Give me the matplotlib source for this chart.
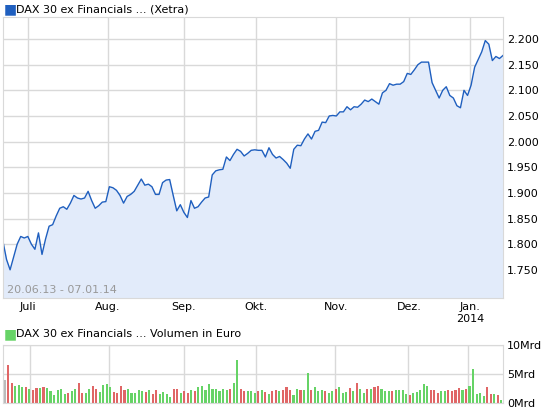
import numpy as np
import matplotlib
matplotlib.use("Agg")
import matplotlib.pyplot as plt
from matplotlib.ticker import FuncFormatter

# Daily closes, 20.06.13 - 07.01.14
prices = [
    1.805, 1.770, 1.750, 1.775, 1.800, 1.815, 1.812,
    1.815, 1.800, 1.790, 1.822, 1.780, 1.810, 1.835, 1.838, 1.855, 1.870, 1.873, 1.868,
    1.880, 1.895, 1.890, 1.888, 1.890, 1.903, 1.885, 1.870, 1.875, 1.882, 1.883,
    1.912, 1.910, 1.905, 1.895, 1.880, 1.893, 1.897, 1.903, 1.915, 1.927, 1.915, 1.917,
    1.912, 1.897, 1.897, 1.920, 1.925, 1.926, 1.895, 1.865, 1.877, 1.862,
    1.852, 1.885, 1.870, 1.873, 1.882, 1.890, 1.892, 1.935, 1.943, 1.945, 1.946, 1.970,
    1.963, 1.975, 1.985, 1.981, 1.972, 1.977, 1.983, 1.984, 1.983,
    1.983, 1.970, 1.988, 1.975, 1.968, 1.971, 1.965, 1.958, 1.948, 1.985, 1.993, 1.992,
    2.005, 2.015, 2.005, 2.020, 2.022, 2.038, 2.037, 2.050, 2.051, 2.050, 2.058,
    2.058, 2.068, 2.062, 2.068, 2.067, 2.073, 2.081, 2.078, 2.083, 2.078, 2.073, 2.095,
    2.100, 2.113, 2.110, 2.112, 2.112, 2.117, 2.133, 2.131, 2.140,
    2.150, 2.155, 2.155, 2.155, 2.115, 2.100, 2.085, 2.100, 2.107, 2.090, 2.085, 2.070,
    2.066, 2.100, 2.090, 2.110, 2.145, 2.160, 2.175,
    2.197, 2.190, 2.158, 2.166, 2.162, 2.168,
]

# Volume in Mrd Euro
volumes = [
    4.0, 6.5, 3.5, 3.0, 3.1, 2.7, 2.8,
    2.5, 2.2, 2.6, 2.6, 2.8, 2.6, 2.1, 1.4, 2.2, 2.4, 1.5, 1.7, 2.1, 2.4, 3.4, 1.7, 1.8,
    2.5, 3.0, 2.4, 1.9, 3.1, 3.3,
    2.8, 1.9, 1.7, 3.0, 2.2, 2.5, 1.8, 1.8, 2.2, 2.0, 1.9, 2.2, 1.6, 2.2, 1.5, 1.9, 1.6,
    1.1, 2.5, 2.5, 1.7, 2.1,
    1.7, 2.2, 2.1, 2.7, 3.0, 2.2, 3.2, 2.4, 2.5, 2.0, 2.5, 2.2, 2.4, 3.5, 7.5, 2.5, 2.0,
    2.0, 2.0, 1.8, 2.0,
    2.3, 1.9, 1.5, 2.0, 2.2, 2.1, 2.2, 2.7, 2.2, 1.4, 2.5, 2.3, 2.3, 5.2, 2.3, 2.8, 2.0,
    2.3, 2.1, 1.8, 2.1, 2.5, 2.7,
    1.7, 1.9, 2.6, 2.1, 3.5, 2.5, 1.7, 2.4, 2.4, 2.8, 2.9, 2.5, 2.0, 2.0, 2.0, 2.2, 2.3,
    2.3, 1.6, 1.3, 1.8,
    1.9, 2.2, 3.3, 2.9, 2.3, 2.3, 1.8, 2.0, 2.0, 2.2, 2.0, 2.2, 2.6, 2.2, 2.5, 3.0, 5.8,
    1.5, 1.8,
    1.2, 2.8, 1.6, 1.5, 1.3, 0.6,
]

month_labels = ["Juli", "Aug.", "Sep.", "Okt.", "Nov.", "Dez.", "Jan.\n2014"]
month_px = [28, 108, 184, 256, 336, 409, 470]
price_ticks = [1.750, 1.800, 1.850, 1.900, 1.950, 2.000, 2.050, 2.100, 2.150, 2.200]

n = len(prices)
x = np.arange(n)
month_pos = [(p - 3) / 500 * (n - 1) for p in month_px]

grid_c = "#d9d9d9"
line_c = "#1f5fbf"
fill_c = "#e2ebfa"

fig = plt.figure(figsize=(5.45, 4.13), dpi=100)
ax = fig.add_axes([3 / 545, 115 / 413, 500 / 545, 281 / 413])
ax.fill_between(x, prices, 1.6, color=fill_c, lw=0)
ax.plot(x, prices, color=line_c, lw=1)
ax.set_xlim(0, n - 1)
ax.set_ylim(1.695, 2.243)
ax.set_yticks(price_ticks)
ax.yaxis.tick_right()
ax.yaxis.set_major_formatter(FuncFormatter(lambda v, p: f"{v:.3f}".replace(".", ".")))
ax.set_xticks(month_pos)
ax.set_xticklabels(month_labels)
ax.grid(True, color=grid_c, lw=1)
ax.set_axisbelow(True)
ax.tick_params(length=0, labelsize=8, pad=3)
for s in ax.spines.values():
    s.set_color(grid_c)
ax.text(0.008, 0.012, "20.06.13 - 07.01.14", transform=ax.transAxes,
        fontsize=8, color="#999999", va="bottom")
fig.text(4 / 545, 1 - 9 / 413, "\u25a0", color=line_c, fontsize=10, va="center")
fig.text(16 / 545, 1 - 9 / 413, "DAX 30 ex Financials ... (Xetra)", fontsize=8, va="center")

axv = fig.add_axes([3 / 545, 10 / 413, 500 / 545, 58 / 413])
colors = ["#bbbbbb"] + ["#66d366" if prices[i] >= prices[i - 1] else "#e06666"
                        for i in range(1, n)]
axv.bar(x, volumes, width=0.6, color=colors)
axv.set_xlim(-0.5, n - 0.5)
axv.set_ylim(0, 10)
axv.set_yticks([0, 5, 10])
axv.set_yticklabels(["0Mrd", "5Mrd", "10Mrd"])
axv.yaxis.tick_right()
axv.set_xticks(month_pos)
axv.set_xticklabels([])
axv.grid(True, color=grid_c, lw=1)
axv.set_axisbelow(True)
axv.tick_params(length=0, labelsize=8, pad=3)
for s in axv.spines.values():
    s.set_color(grid_c)
fig.text(4 / 545, 1 - 334 / 413, "\u25a0", color="#66d366", fontsize=10, va="center")
fig.text(16 / 545, 1 - 334 / 413, "DAX 30 ex Financials ... Volumen in Euro", fontsize=8, va="center")

fig.savefig("out.png", dpi=100)
